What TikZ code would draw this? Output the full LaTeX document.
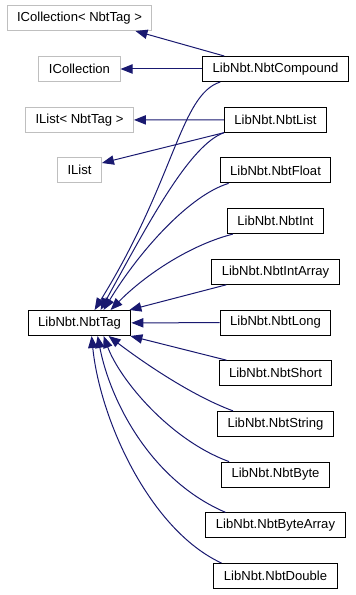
\documentclass[tikz,border=0pt]{standalone}
\usepackage{fontspec}
\setmainfont{Liberation Sans}
\usepackage{xcolor}
\usetikzlibrary{arrows.meta, calc}
\definecolor{navy}{HTML}{191970}

\begin{document}
\begin{tikzpicture}[x=0.75pt, y=-0.75pt,
        cls/.style={draw=black, line width=0.75pt, minimum height=18.75pt, inner xsep=7.5pt, inner ysep=0pt, font=\fontsize{9.8}{12}\selectfont},
        ext/.style={cls, draw=gray!50},
        inh/.style={draw=navy, line width=0.75pt, -{Triangle[length=9pt, width=7pt]}}]
        \useasboundingbox (0,0) rectangle (355,595);

        % Left column
        \node[ext] (icolT) at (79.5, 18) {ICollection< NbtTag >};
        \node[ext] (icol) at (79.5, 69) {ICollection};
        \node[ext] (ilistT) at (79.5, 120) {IList< NbtTag >};
        \node[ext] (ilist) at (79.5, 170) {IList};
        \node[cls] (tag) at (79.5, 323) {LibNbt.NbtTag};

        % Right column
        \foreach \n/\t [count=\i from 0] in {cmp/NbtCompound, lst/NbtList, flt/NbtFloat, int/NbtInt, iar/NbtIntArray, lng/NbtLong, sht/NbtShort, str/NbtString, byt/NbtByte, bar/NbtByteArray, dbl/NbtDouble} {
            \node[cls] (\n) at (275.5, 69 + 50.7*\i) {LibNbt.\t};
        }

        % Interfaces
        \draw[inh] ($(cmp.north west)+(22,0)$) -- ($(icolT.south east)+(-17,0)$);
        \draw[inh] (cmp) -- (icol);
        \draw[inh] (lst) -- (ilistT);
        \draw[inh] (lst.south west) -- ($(ilist.east)+(0,-7)$);

        % Base class, upper part
        \draw[inh] ($(cmp.south west)+(18,0)$) .. controls (180,95) and (175,180) .. ($(tag.north west)+(67,0)$);
        \draw[inh] (lst.south west) .. controls (190,145) and (150,220) .. ($(tag.north west)+(73,0)$);
        \draw[inh] ($(flt.south west)+(9,0)$) .. controls (190,195) and (140,250) .. ($(tag.north west)+(76,0)$);
        \draw[inh] ($(int.south west)+(6,0)$) .. controls (190,245) and (145,275) .. ($(tag.north west)+(83,0)$);
        \draw[inh] ($(iar.south west)+(15,0)$) -- ($(tag.north east)+(-2,0)$);
        \draw[inh] (lng) -- (tag);

        % Base class, lower part
        \draw[inh] ($(sht.north west)+(8,0)$) -- ($(tag.south east)+(-1,0)$);
        \draw[inh] ($(str.north west)+(16,0)$) .. controls (190,395) and (140,360) .. ($(tag.south west)+(81,0)$);
        \draw[inh] ($(byt.north west)+(8,0)$) .. controls (170,440) and (120,380) .. ($(tag.south west)+(76,0)$);
        \draw[inh] ($(bar.north west)+(20,0)$) .. controls (150,480) and (110,400) .. ($(tag.south west)+(70,0)$);
        \draw[inh] ($(dbl.north west)+(8,0)$) .. controls (150,530) and (100,420) .. ($(tag.south west)+(64,0)$);
    \end{tikzpicture}
\end{document}
